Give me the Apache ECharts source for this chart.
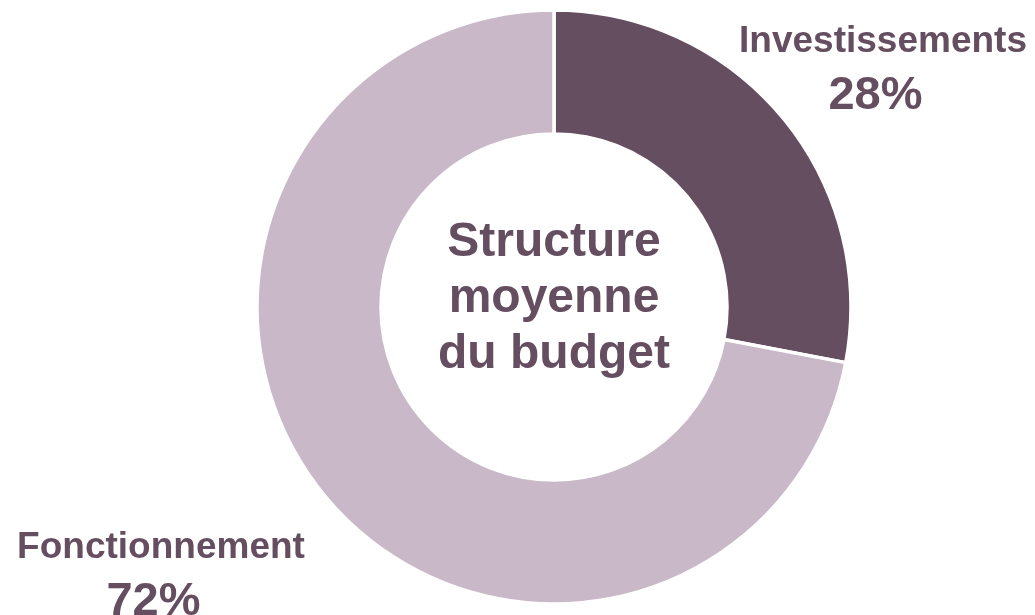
<!DOCTYPE html>
<html>
<head>
<meta charset="utf-8">
<script src="https://cdn.jsdelivr.net/npm/echarts@6/dist/echarts.min.js"></script>
<style>
    html, body { margin: 0; padding: 0; background: #ffffff; }
    #budgetChart { width: 1035px; height: 615px; }
</style>
</head>
<body>
<div id="budgetChart"></div>
<script>
// budget structure (share in %)
var categories = ['Investissements', 'Fonctionnement'];
var shares = [28, 72];
var sliceColors = ['#654E60', '#C9B8C7'];
var centerLines = ['Structure', 'moyenne', 'du budget'];

// where each label goes (x, y of the label block centre)
var labelSpots = [
    { x: 883, y: 70 },
    { x: 161, y: 576 }
];

var textColor = '#654E60';
var fontStack = 'Liberation Sans, Arial, sans-serif';

var pieData = categories.map(function (name, i) {
    return {
        name: name,
        value: shares[i],
        itemStyle: { color: sliceColors[i] }
    };
});

var myChart = echarts.init(document.getElementById('budgetChart'));

myChart.setOption({
    animation: false,
    title: {
        text: centerLines.join('\n'),
        left: 554,
        top: 299,
        padding: 0,
        textAlign: 'center',
        textVerticalAlign: 'middle',
        textStyle: {
            color: textColor,
            fontFamily: fontStack,
            fontWeight: 'bold',
            fontSize: 48,
            lineHeight: 56
        }
    },
    series: [
        {
            type: 'pie',
            center: [554, 307],
            radius: [173, 297],
            startAngle: 90,
            clockwise: true,
            data: pieData,
            itemStyle: {
                borderColor: '#ffffff',
                borderWidth: 3.5
            },
            labelLine: { show: false },
            label: {
                show: true,
                position: 'outside',
                overflow: 'none',
                formatter: '{n|{b}}\n{v|{d}%}',
                rich: {
                    n: {
                        color: textColor,
                        fontFamily: fontStack,
                        fontWeight: 'bold',
                        fontSize: 37,
                        lineHeight: 52
                    },
                    v: {
                        color: textColor,
                        fontFamily: fontStack,
                        fontWeight: 'bold',
                        fontSize: 47,
                        lineHeight: 56,
                        padding: [0, 15, 0, 0]
                    }
                }
            },
            labelLayout: function (params) {
                var spot = labelSpots[params.dataIndex];
                return {
                    x: spot.x,
                    y: spot.y,
                    align: 'center',
                    verticalAlign: 'middle'
                };
            }
        }
    ]
});
</script>
</body>
</html>
